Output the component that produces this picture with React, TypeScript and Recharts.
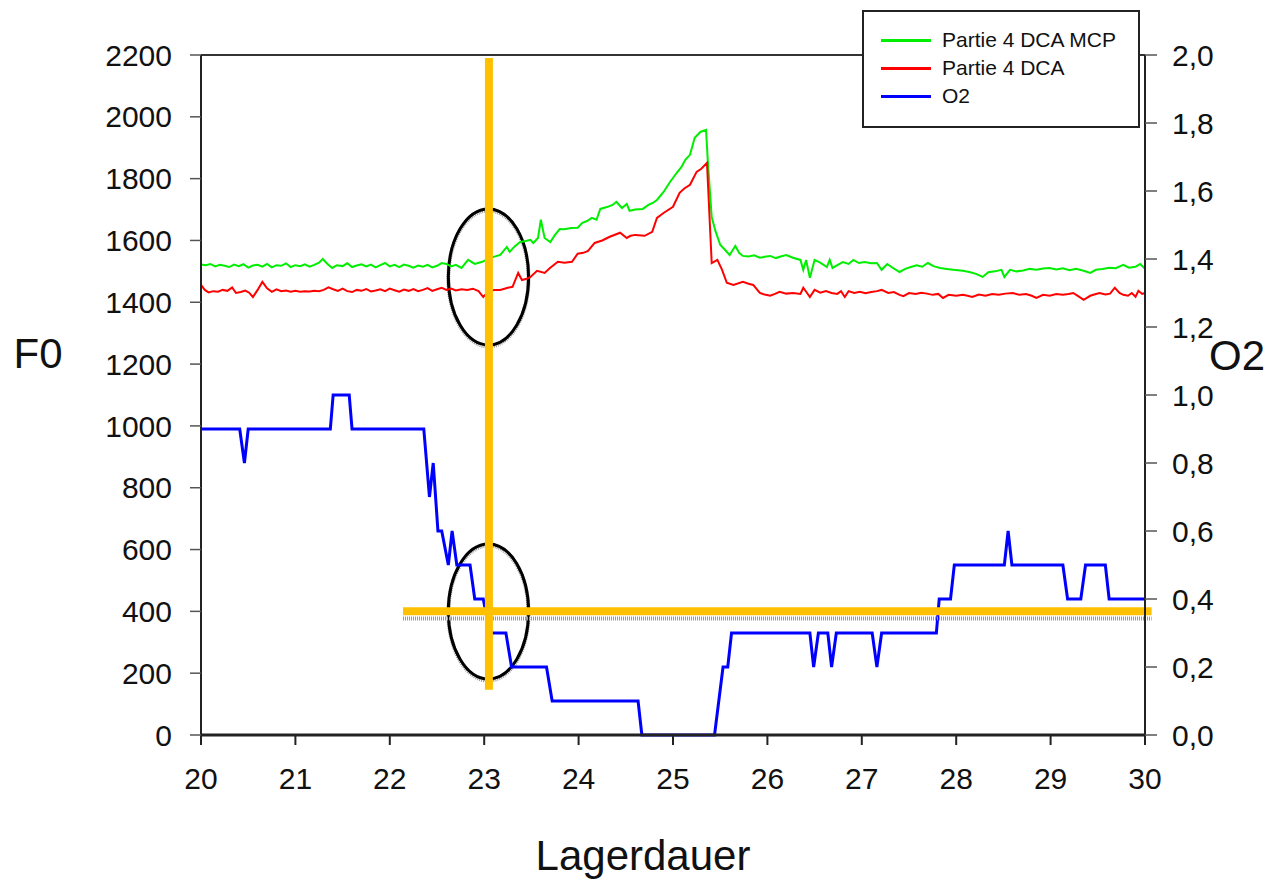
import { LineChart, Line, XAxis, YAxis, ReferenceLine, ReferenceArea } from 'recharts'

// Partie 4 DCA MCP (F0), [day, value]
const mcpSeries: [number, number][] = [
  [20.0, 1522], [20.05, 1520], [20.1, 1524], [20.15, 1516], [20.2, 1521], [20.25, 1518], [20.3, 1514],
  [20.35, 1522], [20.4, 1517], [20.45, 1523], [20.5, 1512], [20.55, 1519], [20.6, 1521], [20.65, 1515],
  [20.7, 1524], [20.75, 1513], [20.8, 1520], [20.85, 1518], [20.9, 1526], [20.95, 1514], [21.0, 1520],
  [21.05, 1517], [21.1, 1523], [21.15, 1515], [21.2, 1521], [21.25, 1528], [21.29, 1540], [21.34, 1524],
  [21.39, 1511], [21.44, 1520], [21.5, 1517], [21.55, 1526], [21.6, 1514], [21.65, 1519], [21.7, 1523],
  [21.75, 1516], [21.8, 1522], [21.85, 1513], [21.9, 1520], [21.95, 1527], [22.0, 1516], [22.05, 1521],
  [22.1, 1514], [22.15, 1522], [22.2, 1518], [22.25, 1512], [22.3, 1519], [22.35, 1515], [22.4, 1521],
  [22.45, 1513], [22.5, 1518], [22.55, 1527], [22.6, 1524], [22.65, 1516], [22.7, 1521], [22.76, 1511],
  [22.83, 1537], [22.9, 1524], [22.98, 1531], [23.05, 1542], [23.1, 1547], [23.17, 1553], [23.24, 1579],
  [23.27, 1563], [23.32, 1580], [23.38, 1595], [23.44, 1598], [23.49, 1602], [23.52, 1592], [23.57, 1608],
  [23.6, 1667], [23.64, 1608], [23.7, 1595], [23.75, 1618], [23.8, 1637], [23.85, 1636], [23.92, 1640],
  [23.99, 1641], [24.04, 1657], [24.09, 1663], [24.14, 1673], [24.19, 1667], [24.23, 1702], [24.3, 1708],
  [24.36, 1715], [24.4, 1725], [24.46, 1705], [24.51, 1718], [24.54, 1696], [24.6, 1700], [24.68, 1702],
  [24.74, 1715], [24.79, 1722], [24.83, 1731], [24.9, 1757], [24.97, 1790], [25.04, 1819], [25.09, 1838],
  [25.13, 1861], [25.18, 1877], [25.23, 1932], [25.29, 1951], [25.35, 1958], [25.37, 1851], [25.41, 1676],
  [25.45, 1630], [25.5, 1586], [25.55, 1570], [25.6, 1553], [25.66, 1582], [25.7, 1560], [25.74, 1550],
  [25.8, 1548], [25.86, 1552], [25.92, 1544], [25.97, 1547], [26.03, 1550], [26.09, 1543], [26.15, 1549],
  [26.2, 1553], [26.27, 1544], [26.35, 1537], [26.38, 1505], [26.41, 1537], [26.45, 1479], [26.5, 1537],
  [26.56, 1528], [26.63, 1514], [26.66, 1537], [26.69, 1511], [26.75, 1522], [26.8, 1530], [26.86, 1524],
  [26.91, 1537], [26.97, 1527], [27.03, 1530], [27.1, 1526], [27.16, 1527], [27.21, 1505], [27.27, 1524],
  [27.33, 1511], [27.4, 1498], [27.46, 1508], [27.52, 1514], [27.58, 1520], [27.64, 1515], [27.7, 1527],
  [27.76, 1517], [27.83, 1511], [27.9, 1508], [27.97, 1505], [28.07, 1502], [28.14, 1498], [28.21, 1492],
  [28.28, 1482], [28.34, 1497], [28.41, 1500], [28.48, 1505], [28.51, 1482], [28.57, 1505], [28.64, 1500],
  [28.71, 1503], [28.78, 1508], [28.85, 1505], [28.92, 1509], [28.99, 1511], [29.06, 1506], [29.13, 1510],
  [29.2, 1504], [29.27, 1508], [29.35, 1502], [29.42, 1495], [29.48, 1505], [29.55, 1508], [29.62, 1512],
  [29.69, 1510], [29.77, 1521], [29.83, 1512], [29.9, 1515], [29.95, 1524], [30.0, 1508],
]

// Partie 4 DCA (F0)
const dcaSeries: [number, number][] = [
  [20.0, 1456], [20.04, 1440], [20.08, 1432], [20.13, 1436], [20.18, 1434], [20.23, 1440], [20.28, 1437],
  [20.33, 1448], [20.37, 1430], [20.42, 1433], [20.47, 1438], [20.51, 1431], [20.55, 1417], [20.6, 1440],
  [20.65, 1466], [20.7, 1445], [20.75, 1434], [20.8, 1442], [20.85, 1436], [20.9, 1438], [20.95, 1434],
  [21.0, 1437], [21.05, 1434], [21.1, 1436], [21.15, 1435], [21.2, 1437], [21.25, 1436], [21.3, 1440],
  [21.35, 1448], [21.4, 1442], [21.45, 1437], [21.5, 1444], [21.55, 1436], [21.6, 1433], [21.65, 1440],
  [21.7, 1437], [21.75, 1443], [21.8, 1435], [21.85, 1438], [21.9, 1442], [21.95, 1436], [22.0, 1444],
  [22.05, 1439], [22.1, 1434], [22.15, 1441], [22.2, 1437], [22.25, 1443], [22.3, 1436], [22.35, 1440],
  [22.4, 1446], [22.45, 1437], [22.5, 1442], [22.55, 1447], [22.6, 1440], [22.65, 1444], [22.7, 1438],
  [22.76, 1442], [22.82, 1440], [22.88, 1444], [22.94, 1436], [22.99, 1417], [23.05, 1437], [23.11, 1440],
  [23.17, 1440], [23.25, 1447], [23.3, 1450], [23.36, 1495], [23.4, 1472], [23.45, 1476], [23.49, 1482],
  [23.56, 1502], [23.64, 1495], [23.7, 1512], [23.78, 1531], [23.85, 1528], [23.93, 1531], [23.99, 1557],
  [24.05, 1560], [24.1, 1566], [24.17, 1592], [24.25, 1600], [24.33, 1612], [24.44, 1625], [24.51, 1608],
  [24.55, 1615], [24.6, 1618], [24.7, 1615], [24.78, 1628], [24.83, 1673], [24.9, 1689], [25.0, 1709],
  [25.07, 1754], [25.12, 1768], [25.18, 1780], [25.25, 1822], [25.3, 1832], [25.36, 1851], [25.41, 1527],
  [25.47, 1537], [25.52, 1505], [25.57, 1463], [25.64, 1456], [25.74, 1466], [25.8, 1460], [25.85, 1456],
  [25.92, 1430], [25.97, 1425], [26.03, 1421], [26.08, 1427], [26.13, 1434], [26.2, 1428], [26.27, 1430],
  [26.35, 1427], [26.38, 1447], [26.42, 1430], [26.45, 1417], [26.5, 1440], [26.56, 1431], [26.62, 1436],
  [26.68, 1430], [26.74, 1427], [26.78, 1436], [26.82, 1417], [26.86, 1436], [26.92, 1430], [26.98, 1434],
  [27.04, 1429], [27.1, 1433], [27.16, 1436], [27.21, 1440], [27.28, 1430], [27.34, 1433], [27.4, 1424],
  [27.44, 1420], [27.5, 1430], [27.57, 1427], [27.63, 1431], [27.69, 1428], [27.75, 1424], [27.81, 1427],
  [27.86, 1414], [27.92, 1424], [28.0, 1421], [28.07, 1424], [28.12, 1421], [28.17, 1417], [28.24, 1425],
  [28.31, 1421], [28.38, 1427], [28.45, 1424], [28.52, 1428], [28.6, 1430], [28.67, 1424], [28.74, 1427],
  [28.8, 1421], [28.85, 1414], [28.92, 1424], [28.99, 1421], [29.06, 1427], [29.13, 1424], [29.19, 1427],
  [29.24, 1430], [29.3, 1418], [29.35, 1408], [29.42, 1421], [29.48, 1427], [29.52, 1430], [29.58, 1425],
  [29.63, 1428], [29.68, 1447], [29.73, 1430], [29.77, 1424], [29.82, 1421], [29.86, 1430], [29.9, 1418],
  [29.93, 1437], [29.97, 1427], [30.0, 1430],
]

// O2 (right axis)
const o2Series: [number, number][] = [
  [20.0, 0.9], [20.41, 0.9], [20.46, 0.8], [20.5, 0.9], [21.37, 0.9], [21.4, 1.0], [21.57, 1.0],
  [21.6, 0.9], [22.36, 0.9], [22.42, 0.7], [22.46, 0.8], [22.51, 0.6], [22.55, 0.6], [22.62, 0.5],
  [22.66, 0.6], [22.71, 0.5], [22.85, 0.5], [22.9, 0.4], [22.99, 0.4], [23.06, 0.3], [23.23, 0.3],
  [23.29, 0.2], [23.66, 0.2], [23.72, 0.1], [24.63, 0.1], [24.67, 0.0], [25.44, 0.0], [25.53, 0.2],
  [25.58, 0.2], [25.62, 0.3], [26.45, 0.3], [26.49, 0.2], [26.54, 0.3], [26.64, 0.3], [26.68, 0.2],
  [26.73, 0.3], [27.11, 0.3], [27.16, 0.2], [27.21, 0.3], [27.79, 0.3], [27.82, 0.4], [27.94, 0.4],
  [27.98, 0.5], [28.51, 0.5], [28.55, 0.6], [28.59, 0.5], [29.13, 0.5], [29.18, 0.4], [29.32, 0.4],
  [29.37, 0.5], [29.58, 0.5], [29.62, 0.4], [30.0, 0.4],
]

const dayTicks = [20, 21, 22, 23, 24, 25, 26, 27, 28, 29, 30]
const f0Ticks = [0, 200, 400, 600, 800, 1000, 1200, 1400, 1600, 1800, 2000, 2200]
const o2Ticks = [0, 0.2, 0.4, 0.6, 0.8, 1.0, 1.2, 1.4, 1.6, 1.8, 2.0]

// marker: day 23 cut and the O2 threshold level
const markerDay = 23.05
const thresholdF0 = 400

const legendItems = [
  { name: 'Partie 4 DCA MCP', color: '#00ee00' },
  { name: 'Partie 4 DCA', color: '#ff0000' },
  { name: 'O2', color: '#0000ff' },
]

const toPoints = (s: [number, number][]) => s.map(([day, value]) => ({ day, value }))

const font = '"Liberation Sans", Arial, sans-serif'
const tickStyle = { fontSize: 30, fill: '#111', fontFamily: font }

function Ring(props: any) {
  const { x, y, width, height } = props
  const cx = x + width / 2
  const cy = y + height / 2
  return (
    <g>
      <ellipse cx={cx} cy={cy + 1.5} rx={width / 2} ry={height / 2} fill="none" stroke="#999" strokeWidth={4} strokeDasharray="1 1" />
      <ellipse cx={cx} cy={cy} rx={width / 2} ry={height / 2} fill="none" stroke="#000" strokeWidth={3} />
    </g>
  )
}

export default function App() {
  return (
    <div style={{ position: 'absolute', left: 0, top: 0, width: 1269, height: 882, background: '#fff', fontFamily: font }}>
      <LineChart width={1269} height={882} margin={{ top: 55, right: 24, bottom: 87, left: 101 }}>
        <XAxis
          dataKey="day"
          type="number"
          domain={[20, 30]}
          ticks={dayTicks}
          allowDuplicatedCategory={false}
          height={60}
          tickSize={10}
          tickMargin={23}
          tick={tickStyle}
          axisLine={{ stroke: '#222', strokeWidth: 3 }}
          tickLine={{ stroke: '#222', strokeWidth: 2 }}
        />
        <YAxis
          yAxisId="f0"
          domain={[0, 2200]}
          ticks={f0Ticks}
          width={100}
          tickSize={11}
          tickMargin={18}
          tick={tickStyle}
          axisLine={{ stroke: '#222', strokeWidth: 2 }}
          tickLine={{ stroke: '#555', strokeWidth: 1.5 }}
        />
        <YAxis
          yAxisId="o2"
          orientation="right"
          domain={[0, 2]}
          ticks={o2Ticks}
          width={100}
          tickSize={12}
          tickMargin={15}
          tick={tickStyle}
          tickFormatter={(v: number) => v.toFixed(1).replace('.', ',')}
          axisLine={{ stroke: '#222', strokeWidth: 2 }}
          tickLine={{ stroke: '#555', strokeWidth: 1.5 }}
        />
        <ReferenceLine yAxisId="f0" y={2200} stroke="#333" strokeWidth={2} />

        <Line yAxisId="f0" data={toPoints(mcpSeries)} dataKey="value" name="Partie 4 DCA MCP" stroke="#00ee00" strokeWidth={2} dot={false} isAnimationActive={false} />
        <Line yAxisId="f0" data={toPoints(dcaSeries)} dataKey="value" name="Partie 4 DCA" stroke="#ff0000" strokeWidth={2} dot={false} isAnimationActive={false} />
        <Line yAxisId="o2" data={toPoints(o2Series)} dataKey="value" name="O2" stroke="#0000ff" strokeWidth={3} dot={false} isAnimationActive={false} />

        <ReferenceLine
          yAxisId="f0"
          ifOverflow="visible"
          segment={[{ x: 22.14, y: 377 }, { x: 30.07, y: 377 }]}
          stroke="#999"
          strokeWidth={4}
          strokeDasharray="1 1"
        />
        <ReferenceLine
          yAxisId="f0"
          ifOverflow="visible"
          segment={[{ x: 22.14, y: thresholdF0 }, { x: 30.07, y: thresholdF0 }]}
          stroke="#ffc000"
          strokeWidth={8}
        />
        <ReferenceLine
          yAxisId="f0"
          ifOverflow="visible"
          segment={[{ x: markerDay, y: 2190 }, { x: markerDay, y: 146 }]}
          stroke="#ffc000"
          strokeWidth={8}
        />
        <ReferenceArea yAxisId="f0" x1={22.62} x2={23.47} y1={1262} y2={1702} ifOverflow="visible" shape={<Ring />} />
        <ReferenceArea yAxisId="f0" x1={22.62} x2={23.47} y1={181} y2={618} ifOverflow="visible" shape={<Ring />} />
      </LineChart>

      <div style={{ position: 'absolute', left: 862, top: 10, width: 274, height: 114, border: '2px solid #222', background: '#fff' }}>
        {legendItems.map((item, i) => (
          <div key={item.name} style={{ position: 'absolute', left: 17, top: 14 + i * 28, display: 'flex', alignItems: 'center', height: 28 }}>
            <span style={{ display: 'inline-block', width: 50, height: 3, background: item.color }} />
            <span style={{ marginLeft: 11, fontSize: 21, color: '#111', whiteSpace: 'nowrap' }}>{item.name}</span>
          </div>
        ))}
      </div>

      <div style={{ position: 'absolute', left: 0, top: 330, width: 76, textAlign: 'center', fontSize: 42, color: '#111' }}>F0</div>
      <div style={{ position: 'absolute', left: 1199, top: 332, width: 76, textAlign: 'center', fontSize: 42, color: '#111' }}>O2</div>
      <div style={{ position: 'absolute', left: 443, top: 832, width: 400, textAlign: 'center', fontSize: 42, color: '#111' }}>Lagerdauer</div>
    </div>
  )
}
